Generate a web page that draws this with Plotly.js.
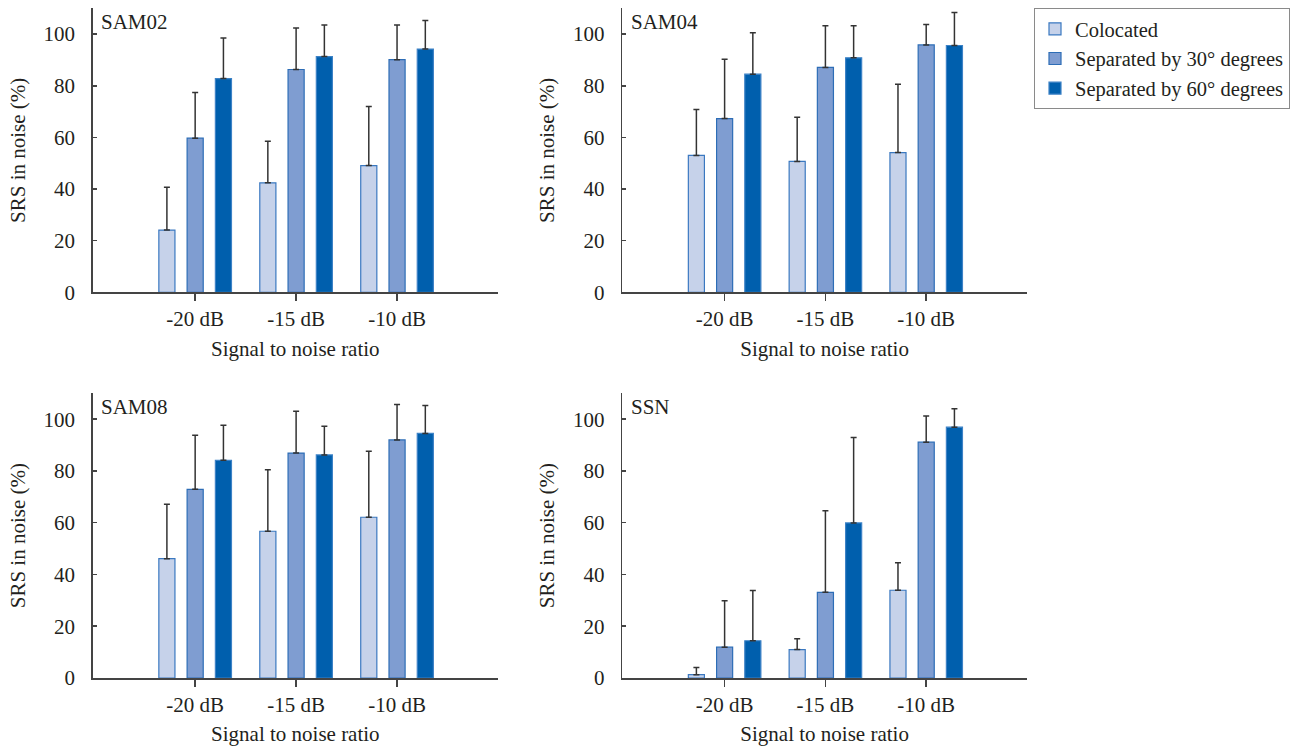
<!DOCTYPE html>
<html>
<head>
<meta charset="utf-8">
<script src="https://cdn.plot.ly/plotly-3.0.1.min.js"></script>
<style>html,body{margin:0;padding:0;background:#fff;}#chart{width:1293px;height:746px;}</style>
</head>
<body>
<div id="chart"></div>
<script>
// ---- data ----
const snr = ['-20 dB', '-15 dB', '-10 dB'];
const seriesNames = ['Colocated', 'Separated by 30° degrees', 'Separated by 60° degrees'];
const panelNames = ['SAM02', 'SAM04', 'SAM08', 'SSN'];

const sam02Colocated = [24.1, 42.4, 49.1];
const sam02ColocatedSD = [16.6, 16.1, 22.9];
const sam02Sep30 = [59.7, 86.3, 90.1];
const sam02Sep30SD = [17.7, 16.1, 13.4];
const sam02Sep60 = [82.8, 91.3, 94.2];
const sam02Sep60SD = [15.7, 12.2, 11.1];

const sam04Colocated = [53.0, 50.7, 54.1];
const sam04ColocatedSD = [17.8, 17.1, 26.5];
const sam04Sep30 = [67.3, 87.1, 95.8];
const sam04Sep30SD = [23.0, 16.1, 7.9];
const sam04Sep60 = [84.5, 90.8, 95.6];
const sam04Sep60SD = [16.0, 12.4, 12.8];

const sam08Colocated = [46.1, 56.7, 62.1];
const sam08ColocatedSD = [21.0, 23.8, 25.5];
const sam08Sep30 = [72.9, 86.9, 92.0];
const sam08Sep30SD = [20.9, 16.2, 13.7];
const sam08Sep60 = [84.1, 86.2, 94.5];
const sam08Sep60SD = [13.6, 11.1, 10.8];

const ssnColocated = [1.3, 11.0, 33.9];
const ssnColocatedSD = [2.8, 4.2, 10.6];
const ssnSep30 = [11.9, 33.1, 91.1];
const ssnSep30SD = [17.9, 31.5, 10.1];
const ssnSep60 = [14.4, 59.9, 96.9];
const ssnSep60SD = [19.4, 33.0, 7.1];

const yTickVals = [0, 20, 40, 60, 80, 100];

// ---- styling ----
const fills = ['#c6d2ea', '#7f9dd1', '#005fad'];
const outlines = ['#3a78c0', '#2d6db6', '#3d82c6'];
const font = 'Liberation Serif';
const fs = 21;
const textColor = '#231f20';

const panelData = [
  [[sam02Colocated, sam02ColocatedSD], [sam02Sep30, sam02Sep30SD], [sam02Sep60, sam02Sep60SD]],
  [[sam04Colocated, sam04ColocatedSD], [sam04Sep30, sam04Sep30SD], [sam04Sep60, sam04Sep60SD]],
  [[sam08Colocated, sam08ColocatedSD], [sam08Sep30, sam08Sep30SD], [sam08Sep60, sam08Sep60SD]],
  [[ssnColocated, ssnColocatedSD], [ssnSep30, ssnSep30SD], [ssnSep60, ssnSep60SD]]
];

const W = 1293, H = 746;
const xDomains = [[92.7 / W, 498 / W], [622.3 / W, 1027 / W], [92.7 / W, 498 / W], [622.3 / W, 1027 / W]];
const yDomains = [[1 - 292.3 / H, 1 - 8.3 / H], [1 - 292.3 / H, 1 - 8.3 / H], [1 - 678 / H, 1 - 393.3 / H], [1 - 678 / H, 1 - 393.3 / H]];

const traces = [];
panelData.forEach((pd, p) => {
  const sfx = p === 0 ? '' : String(p + 1);
  pd.forEach((s, k) => {
    traces.push({
      type: 'bar',
      x: snr,
      y: s[0],
      name: seriesNames[k],
      legendgroup: seriesNames[k],
      showlegend: p === 0,
      xaxis: 'x' + sfx,
      yaxis: 'y' + sfx,
      marker: { color: fills[k], line: { color: outlines[k], width: 1.2 } },
      error_y: {
        type: 'data', array: s[1], arrayminus: s[1].map(() => 0), symmetric: false,
        color: '#333333', thickness: 1.5, width: 3
      },
      hoverinfo: 'x+y+name'
    });
  });
});

const layout = {
  width: W, height: H,
  margin: { l: 0, r: 0, t: 0, b: 0 },
  paper_bgcolor: '#ffffff', plot_bgcolor: '#ffffff',
  barmode: 'group', bargap: 0.16, bargroupgap: 0.43,
  font: { family: font, size: fs, color: textColor },
  showlegend: true,
  legend: {
    x: 1034 / W, y: 1 - 8 / H, xanchor: 'left', yanchor: 'top',
    bordercolor: '#8a8a8a', borderwidth: 1, bgcolor: '#ffffff',
    font: { family: font, size: 20.5, color: textColor },
    tracegroupgap: 0, itemwidth: 30
  },
  annotations: []
};

panelNames.forEach((nm, p) => {
  const sfx = p === 0 ? '' : String(p + 1);
  layout['xaxis' + sfx] = {
    domain: xDomains[p], anchor: 'y' + sfx,
    type: 'category', range: [-1.015, 3.0],
    showline: true, linecolor: '#444', linewidth: 1.5,
    ticks: 'outside', ticklen: 7, tickwidth: 1.5, tickcolor: '#444',
    showgrid: false, zeroline: false, fixedrange: true,
    tickfont: { family: font, size: fs, color: textColor },
    title: { text: 'Signal to noise ratio', font: { family: font, size: fs, color: textColor }, standoff: 11 }
  };
  layout['yaxis' + sfx] = {
    domain: yDomains[p], anchor: 'x' + sfx,
    range: [0, 110], tickvals: yTickVals,
    showline: true, linecolor: '#444', linewidth: 1.5,
    ticks: 'inside', ticklen: 4, tickwidth: 1.5, tickcolor: '#444',
    ticklabelstandoff: 12,
    showgrid: false, zeroline: false, fixedrange: true,
    tickfont: { family: font, size: fs, color: textColor },
    title: { text: 'SRS in noise (%)', font: { family: font, size: fs, color: textColor }, standoff: 12 }
  };
  layout.annotations.push({
    text: nm, xref: 'x' + sfx + ' domain', yref: 'y' + sfx + ' domain',
    x: 0.016, y: 1.0, xanchor: 'left', yanchor: 'top', showarrow: false,
    font: { family: font, size: fs, color: textColor }
  });
});

Plotly.newPlot('chart', traces, layout, { displayModeBar: false, staticPlot: true });
</script>
</body>
</html>
